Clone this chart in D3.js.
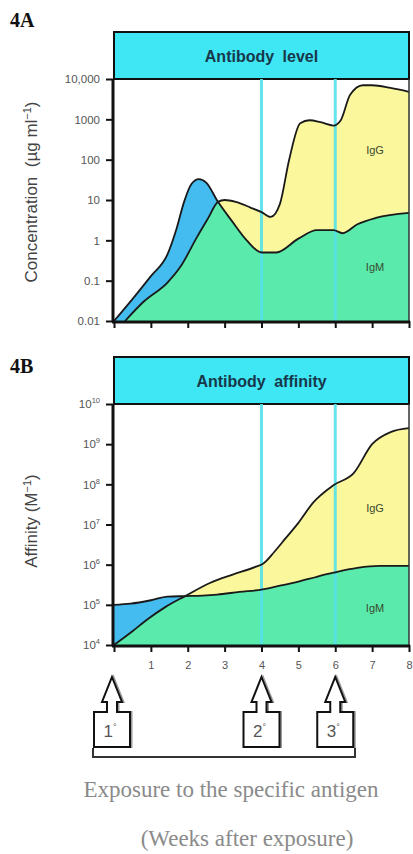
<!DOCTYPE html>
<html>
<head>
<meta charset="utf-8">
<script src="https://cdn.jsdelivr.net/npm/d3@7/dist/d3.min.js"></script>
<style>
    body { margin: 0; background: #fff; }
    svg { display: block; }
    .axis text { font-family: Arial, "Liberation Sans", sans-serif; font-size: 11.5px; fill: #555; }
    .axis line { stroke: #111; stroke-width: 2px; }
    .axis .domain { display: none; }
    .fig-lbl { font-family: "Liberation Serif", "Times New Roman", serif; font-weight: bold; font-size: 20px; fill: #111; }
    .box-title { font-family: Arial, "Liberation Sans", sans-serif; font-weight: bold; font-size: 16px; fill: #17384a; word-spacing: 4px; }
    .y-title { font-family: Arial, "Liberation Sans", sans-serif; font-size: 17px; fill: #444; }
    .series-lbl { font-family: Arial, "Liberation Sans", sans-serif; font-size: 11px; fill: #3a4a30; }
    .caption { font-family: "Liberation Serif", "Times New Roman", serif; font-size: 23px; fill: #8a8a8a; }
    .dose { font-family: Arial, "Liberation Sans", sans-serif; font-size: 17px; fill: #555; }
</style>
</head>
<body>
<div id="chart"></div>
<script>

// weeks on the x axis
let weekTicks = [0, 1, 2, 3, 4, 5, 6, 7, 8];
let exposureWeeks = [0, 4, 6];
let exposureLabels = ["1", "2", "3"];

// 4A antibody level (µg/ml)
let levelTicks = [0.01, 0.1, 1, 10, 100, 1000, 10000];
let levelTickLabels = ["0.01", "0.1", "1", "10", "100", "1000", "10,000"];
let levelIgMWeeks = [0, 0.5, 1, 1.45, 1.7, 1.9, 2.1, 2.3, 2.5, 2.82, 3.2, 3.6, 4, 4.4, 5, 5.5, 5.95, 6.2, 6.6, 7.1, 8];
let levelIgM = [0.01, 0.035, 0.13, 0.45, 2, 9, 25, 33, 27, 9, 3, 1, 0.5, 0.5, 1.1, 1.8, 1.8, 1.5, 2.5, 3.6, 4.8];
let levelIgGWeeks = [0.3, 0.8, 1.45, 1.8, 2.25, 2.55, 2.82, 3.0, 3.3, 3.7, 4, 4.25, 4.5, 4.75, 5.05, 5.3, 5.6, 5.95, 6.15, 6.4, 6.75, 7.0, 7.5, 8];
let levelIgG = [0.01, 0.03, 0.09, 0.22, 1.2, 3.5, 9, 10, 9, 6.5, 5, 3.8, 8, 100, 800, 950, 850, 700, 950, 4000, 7000, 7000, 6000, 4800];

// 4B antibody affinity (M^-1)
let affinityTicks = [1e4, 1e5, 1e6, 1e7, 1e8, 1e9, 1e10];
let affinityTickExps = ["4", "5", "6", "7", "8", "9", "10"];
let affinityIgMWeeks = [0, 0.45, 1, 1.45, 1.93, 2.4, 2.8, 3.4, 4, 4.5, 5, 5.5, 5.95, 6.6, 7.2, 8];
let affinityIgM = [1e5, 1.07e5, 1.3e5, 1.6e5, 1.65e5, 1.7e5, 1.8e5, 2.1e5, 2.4e5, 3e5, 3.8e5, 5e5, 6.3e5, 8.3e5, 9.3e5, 9.3e5];
let affinityIgGWeeks = [0, 0.5, 0.9, 1.4, 1.93, 2.6, 3.2, 3.85, 4.05, 4.35, 4.65, 5.0, 5.4, 5.95, 6.5, 7.0, 7.5, 8];
let affinityIgG = [1e4, 2.2e4, 4.3e4, 8.9e4, 1.65e5, 3.5e5, 5.6e5, 8.9e5, 1.07e6, 2.1e6, 4.5e6, 1.1e7, 3.5e7, 9.5e7, 1.9e8, 1e9, 2e9, 2.5e9];

const W = 413, H = 854;
const colors = { box: "#3fe6f4", blue: "#45bcef", yellow: "#fbf79c", green: "#5aeaab", marker: "#55e2ea" };

let svg = d3.select("#chart").append("svg")
    .attr("width", W)
    .attr("height", H);

let xScale = d3.scaleLinear()
    .domain([0, 8])
    .range([114, 409]);

function zip(ws, vs) {
    return ws.map((w, i) => ({ w: w, v: vs[i] }));
}

function drawPanel(opts) {

    let y = opts.yScale;
    let top = y.range()[1], bottom = y.range()[0];
    let g = svg.append("g");

    // figure label
    g.append("text")
        .attr("class", "fig-lbl")
        .attr("x", 10)
        .attr("y", opts.labelY)
        .text(opts.label);

    // title box
    g.append("rect")
        .attr("x", xScale(0))
        .attr("y", opts.boxTop)
        .attr("width", xScale(8) - xScale(0))
        .attr("height", top - opts.boxTop)
        .attr("fill", colors.box)
        .attr("stroke", "#111")
        .attr("stroke-width", 2);

    g.append("text")
        .attr("class", "box-title")
        .attr("x", (xScale(0) + xScale(8)) / 2)
        .attr("y", (opts.boxTop + top) / 2 + 6)
        .attr("text-anchor", "middle")
        .text(opts.title);

    let igm = zip(opts.igmWeeks, opts.igm);
    let igg = zip(opts.iggWeeks, opts.igg);

    let area = d3.area()
        .x(d => xScale(d.w))
        .y0(bottom)
        .y1(d => y(d.v))
        .curve(d3.curveMonotoneX);

    let line = d3.line()
        .x(d => xScale(d.w))
        .y(d => y(d.v))
        .curve(d3.curveMonotoneX);

    // green = area under both curves
    g.append("clipPath")
        .attr("id", opts.id + "-clip")
        .append("path")
        .attr("d", area(igg));

    g.append("path").attr("d", area(igm)).attr("fill", colors.blue);
    g.append("path").attr("d", area(igg)).attr("fill", colors.yellow);
    g.append("path")
        .attr("d", area(igm))
        .attr("fill", colors.green)
        .attr("clip-path", `url(#${opts.id}-clip)`);

    // booster markers
    g.selectAll(".marker")
        .data([4, 6])
        .enter().append("line")
        .attr("x1", d => xScale(d))
        .attr("x2", d => xScale(d))
        .attr("y1", top)
        .attr("y2", bottom)
        .attr("stroke", colors.marker)
        .attr("stroke-width", 3)
        .attr("opacity", 0.9);

    [igm, igg].forEach(s => {
        g.append("path")
            .datum(s)
            .attr("fill", "none")
            .attr("stroke", "#1a1a1a")
            .attr("stroke-width", 1.8)
            .attr("stroke-linejoin", "round")
            .attr("d", line);
    });

    // right edge
    g.append("line")
        .attr("x1", xScale(8)).attr("x2", xScale(8))
        .attr("y1", top).attr("y2", bottom)
        .attr("stroke", "#333")
        .attr("stroke-width", 1.5);

    // axes
    let yAxis = d3.axisLeft(y)
        .tickValues(opts.ticks)
        .tickSize(8)
        .tickPadding(6)
        .tickFormat(opts.tickFormat || ((d, i) => opts.tickLabels[i]));

    let ya = g.append("g")
        .attr("class", "axis")
        .attr("transform", `translate(${xScale(0)},0)`)
        .call(yAxis);

    if (opts.superscript) {
        ya.selectAll(".tick text")
            .text("")
            .each(function(d, i) {
                let t = d3.select(this);
                t.append("tspan").text("10");
                t.append("tspan")
                    .attr("dy", -5)
                    .attr("font-size", "7.5px")
                    .text(opts.tickExps[i]);
            });
    }

    let xAxis = d3.axisBottom(xScale)
        .tickValues(weekTicks)
        .tickSize(7)
        .tickPadding(9)
        .tickFormat(d => opts.showX && d > 0 ? d : "");

    g.append("g")
        .attr("class", "axis")
        .attr("transform", `translate(0,${bottom})`)
        .call(xAxis)
        .selectAll("text")
        .style("font-size", "11px");

    g.append("line")
        .attr("x1", xScale(0) - 1).attr("x2", xScale(0) - 1)
        .attr("y1", top).attr("y2", bottom + 1)
        .attr("stroke", "#111").attr("stroke-width", 3);
    g.append("line")
        .attr("x1", xScale(0) - 2).attr("x2", xScale(8) + 1)
        .attr("y1", bottom + 1).attr("y2", bottom + 1)
        .attr("stroke", "#111").attr("stroke-width", 3);

    // series labels
    g.append("text").attr("class", "series-lbl")
        .attr("x", 375).attr("y", opts.iggLblY)
        .attr("text-anchor", "middle").text("IgG");
    g.append("text").attr("class", "series-lbl")
        .attr("x", 375).attr("y", opts.igmLblY)
        .attr("text-anchor", "middle").text("IgM");

    // y title
    g.append("text")
        .attr("class", "y-title")
        .attr("transform", `translate(37,${opts.yTitleY}) rotate(-90)`)
        .attr("text-anchor", "middle")
        .html(opts.yTitle);
}

drawPanel({
    id: "level",
    label: "4A",
    labelY: 27,
    title: "Antibody level",
    boxTop: 32,
    yScale: d3.scaleLog().domain([0.01, 10000]).range([321, 79]),
    ticks: levelTicks,
    tickLabels: levelTickLabels,
    igmWeeks: levelIgMWeeks, igm: levelIgM,
    iggWeeks: levelIgGWeeks, igg: levelIgG,
    iggLblY: 154, igmLblY: 271,
    showX: false,
    yTitleY: 192,
    yTitle: 'Concentration&#160;&#160;(µg ml<tspan dy="-6" font-size="11px">−1</tspan><tspan dy="6">)</tspan>'
});

drawPanel({
    id: "affinity",
    label: "4B",
    labelY: 373,
    title: "Antibody affinity",
    boxTop: 357,
    yScale: d3.scaleLog().domain([1e4, 1e10]).range([645, 404]),
    ticks: affinityTicks,
    superscript: true,
    tickExps: affinityTickExps,
    tickFormat: d => "",
    igmWeeks: affinityIgMWeeks, igm: affinityIgM,
    iggWeeks: affinityIgGWeeks, igg: affinityIgG,
    iggLblY: 512, igmLblY: 612,
    showX: true,
    yTitleY: 521,
    yTitle: 'Affinity (M<tspan dy="-6" font-size="11px">−1</tspan><tspan dy="6">)</tspan>'
});

// exposure arrows
let arrow = function(cx) {
    return `M${cx},677 L${cx + 10},702 L${cx + 5},702 L${cx + 5},712 L${cx + 18},712 L${cx + 18},747
            L${cx - 18},747 L${cx - 18},712 L${cx - 5},712 L${cx - 5},702 L${cx - 10},702 Z`;
};

let arrows = svg.append("g");
exposureWeeks.forEach((w, i) => {
    let cx = xScale(w) - (w === 0 ? 2 : 0);
    arrows.append("path")
        .attr("d", arrow(cx + 1.5))
        .attr("fill", "none")
        .attr("stroke", "#999")
        .attr("stroke-width", 2);
    arrows.append("path")
        .attr("d", arrow(cx))
        .attr("fill", "#fff")
        .attr("stroke", "#111")
        .attr("stroke-width", 2);
    let t = arrows.append("text")
        .attr("class", "dose")
        .attr("x", cx - 2)
        .attr("y", 737)
        .attr("text-anchor", "middle");
    t.append("tspan").text(exposureLabels[i]);
    t.append("tspan").attr("dy", -7).attr("font-size", "9px").text("°");
});

arrows.append("path")
    .attr("d", `M93,748 V757 H355 V748`)
    .attr("fill", "none")
    .attr("stroke", "#333")
    .attr("stroke-width", 2);

svg.append("text")
    .attr("class", "caption")
    .attr("x", 231)
    .attr("y", 797)
    .attr("text-anchor", "middle")
    .text("Exposure to the specific antigen");

svg.append("text")
    .attr("class", "caption")
    .attr("x", 247)
    .attr("y", 846)
    .attr("text-anchor", "middle")
    .text("(Weeks after exposure)");

</script>
</body>
</html>
